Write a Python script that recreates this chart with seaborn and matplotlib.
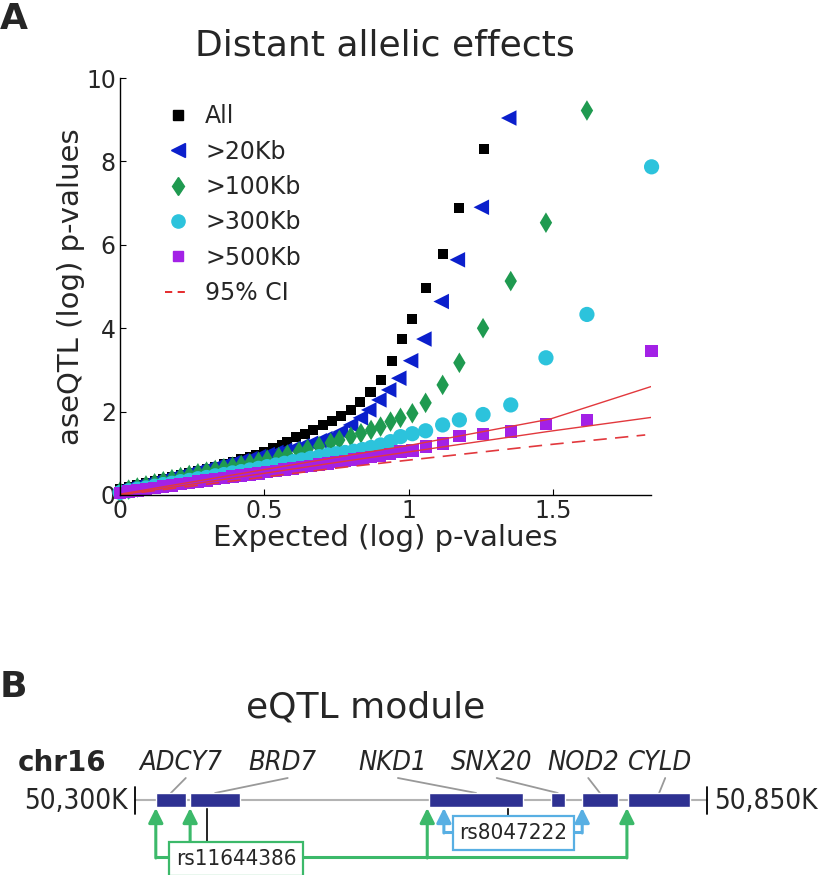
import pandas as pd
import seaborn as sns
import matplotlib.pyplot as plt
from matplotlib import font_manager as fm
from matplotlib.lines import Line2D
from matplotlib.ticker import FormatStrFormatter

# ---- panel A: expected vs observed -log10 p-values ----
all_x = [0.00, 0.03, 0.06, 0.09, 0.12, 0.15, 0.18, 0.21, 0.24, 0.27, 0.30, 0.33, 0.36,
         0.39, 0.42, 0.45, 0.47, 0.50, 0.53, 0.56, 0.58, 0.61, 0.64, 0.67, 0.705, 0.735,
         0.767, 0.80, 0.833, 0.868, 0.905, 0.941, 0.976, 1.013, 1.059, 1.118, 1.174, 1.26]
all_y = [0.14, 0.19, 0.24, 0.29, 0.34, 0.38, 0.43, 0.48, 0.53, 0.58, 0.63, 0.68, 0.74,
         0.80, 0.86, 0.92, 0.97, 1.04, 1.12, 1.20, 1.28, 1.38, 1.47, 1.57, 1.68, 1.77,
         1.89, 2.04, 2.24, 2.48, 2.76, 3.22, 3.74, 4.22, 4.96, 5.78, 6.89, 8.29]

kb20_x = [0.00, 0.03, 0.06, 0.09, 0.12, 0.15, 0.18, 0.21, 0.24, 0.27, 0.30, 0.33, 0.36,
          0.39, 0.42, 0.45, 0.48, 0.51, 0.54, 0.57, 0.60, 0.63, 0.66, 0.69, 0.71, 0.735,
          0.764, 0.799, 0.833, 0.862, 0.897, 0.931, 0.966, 1.007, 1.053, 1.113, 1.169,
          1.252, 1.347]
kb20_y = [0.12, 0.17, 0.22, 0.27, 0.32, 0.37, 0.42, 0.47, 0.52, 0.57, 0.62, 0.67, 0.72,
          0.77, 0.82, 0.87, 0.92, 0.97, 1.02, 1.07, 1.12, 1.18, 1.24, 1.30, 1.35, 1.40,
          1.52, 1.68, 1.85, 2.04, 2.28, 2.52, 2.80, 3.22, 3.74, 4.64, 5.64, 6.90, 9.04]

kb100_x = [0.00, 0.03, 0.06, 0.09, 0.12, 0.15, 0.18, 0.21, 0.24, 0.27, 0.30, 0.33, 0.36,
           0.39, 0.42, 0.45, 0.48, 0.51, 0.55, 0.58, 0.62, 0.65, 0.69, 0.73, 0.76, 0.80,
           0.835, 0.87, 0.903, 0.9375, 0.972, 1.013, 1.059, 1.118, 1.176, 1.258, 1.354,
           1.476, 1.618]
kb100_y = [0.08, 0.13, 0.18, 0.23, 0.28, 0.33, 0.38, 0.43, 0.48, 0.52, 0.56, 0.60, 0.64,
           0.68, 0.72, 0.76, 0.80, 0.85, 0.91, 0.97, 1.04, 1.10, 1.17, 1.25, 1.32, 1.40,
           1.48, 1.56, 1.64, 1.76, 1.85, 1.96, 2.21, 2.64, 3.17, 4.00, 5.13, 6.53, 9.22]

kb300_x = [0.00, 0.03, 0.06, 0.09, 0.12, 0.15, 0.18, 0.21, 0.24, 0.27, 0.30, 0.33, 0.36,
           0.39, 0.42, 0.45, 0.48, 0.51, 0.54, 0.57, 0.60, 0.63, 0.66, 0.69, 0.72, 0.75,
           0.78, 0.81, 0.84, 0.87, 0.903, 0.9375, 0.972, 1.013, 1.059, 1.118, 1.176,
           1.258, 1.354, 1.476, 1.618, 1.842]
kb300_y = [0.06, 0.10, 0.14, 0.17, 0.21, 0.25, 0.28, 0.32, 0.35, 0.39, 0.42, 0.46, 0.49,
           0.53, 0.56, 0.60, 0.64, 0.68, 0.72, 0.76, 0.80, 0.84, 0.88, 0.92, 0.96, 0.99,
           1.02, 1.05, 1.09, 1.14, 1.20, 1.28, 1.40, 1.47, 1.54, 1.68, 1.80, 1.93, 2.16,
           3.29, 4.33, 7.87]

kb500_x = [0.00, 0.03, 0.06, 0.09, 0.12, 0.15, 0.18, 0.21, 0.24, 0.27, 0.30, 0.33, 0.36,
           0.39, 0.42, 0.45, 0.48, 0.51, 0.54, 0.57, 0.60, 0.63, 0.66, 0.69, 0.72, 0.75,
           0.78, 0.81, 0.84, 0.87, 0.90, 0.935, 0.972, 1.013, 1.061, 1.119, 1.177, 1.258,
           1.354, 1.476, 1.618, 1.842]
kb500_y = [0.05, 0.08, 0.11, 0.14, 0.17, 0.20, 0.23, 0.26, 0.29, 0.32, 0.35, 0.38, 0.41,
           0.44, 0.47, 0.49, 0.52, 0.55, 0.58, 0.61, 0.64, 0.67, 0.70, 0.73, 0.76, 0.79,
           0.82, 0.85, 0.88, 0.91, 0.94, 0.99, 1.04, 1.07, 1.16, 1.24, 1.41, 1.46, 1.52,
           1.70, 1.80, 3.46]

# null line and 95% confidence band
null_x = [0.0, 0.73, 1.48, 1.84]
null_y = [0.0, 0.76, 1.52, 1.86]
ci_up_x = [0.0, 0.73, 1.01, 1.49, 1.84]
ci_up_y = [0.02, 0.88, 1.20, 1.82, 2.60]
ci_lo_x = [0.0, 0.73, 1.476, 1.82]
ci_lo_y = [0.0, 0.63, 1.20, 1.44]

series = ['All', '>20Kb', '>100Kb', '>300Kb', '>500Kb']
xs = [all_x, kb20_x, kb100_x, kb300_x, kb500_x]
ys = [all_y, kb20_y, kb100_y, kb300_y, kb500_y]
colors = ['#000000', '#0b1fcc', '#1f9a50', '#2cc3dc', '#a321e6']
markers = ['s', '<', 'd', 'o', 's']
sizes = [52, 125, 110, 120, 80]
red = '#e2383d'

df = pd.concat([pd.DataFrame({'expected': x, 'observed': y, 'set': s})
                for s, x, y in zip(series, xs, ys)], ignore_index=True)

# ---- panel B: chr16 eQTL module ----
region = [50300, 50850]
genes = ['ADCY7', 'BRD7', 'NKD1', 'SNX20', 'NOD2', 'CYLD']
gene_start = [50320, 50353, 50583, 50700, 50730, 50774]
gene_end = [50349, 50401, 50673, 50713, 50764, 50834]
label_kb = [50344, 50442, 50548, 50643, 50731, 50805]
snps = ['rs11644386', 'rs8047222']
snp_pos = [50369, 50659]
snp_label_kb = [50397, 50664]
green_targets = [50320, 50353, 50581, 50773]
blue_targets = [50597, 50730]

sns.set_style('ticks')
plt.rcParams['font.family'] = ['DejaVu Sans']

# panel B uses a narrow face; fall back to smaller DejaVu Sans if no condensed file
cond_file = fm.findfont(fm.FontProperties(family='DejaVu Sans', stretch='condensed'))
if 'ondensed' in cond_file:
    narrow = dict(family='DejaVu Sans', stretch='condensed')
    fs_region, fs_gene, fs_snp = 20, 19.5, 16
else:
    narrow = dict(family='DejaVu Sans')
    fs_region, fs_gene, fs_snp = 18.5, 17.5, 14.5

W, H = 819, 875
fig = plt.figure(figsize=(W / 100, H / 100), dpi=100)

ax = fig.add_axes([120 / W, 1 - 495 / H, 531 / W, 417 / H])
sns.scatterplot(data=df, x='expected', y='observed', hue='set', style='set', size='set',
                palette=dict(zip(series, colors)), markers=dict(zip(series, markers)),
                sizes=dict(zip(series, sizes)), linewidth=0, legend=False,
                clip_on=False, ax=ax)
ax.plot(ci_up_x, ci_up_y, color=red, lw=1)
ax.plot(null_x, null_y, color=red, lw=1)
ax.plot(ci_lo_x, ci_lo_y, color=red, lw=1.2, ls=(0, (8, 5)))

ax.set_xlim(0, 1.84)
ax.set_ylim(0, 10)
ax.set_xticks([0, 0.5, 1, 1.5])
ax.set_yticks([0, 2, 4, 6, 8, 10])
ax.xaxis.set_major_formatter(FormatStrFormatter('%g'))
ax.yaxis.set_major_formatter(FormatStrFormatter('%g'))
sns.despine(ax=ax)
for s in ['left', 'bottom']:
    ax.spines[s].set_color('black')
    ax.spines[s].set_linewidth(1)
ax.tick_params(direction='in', length=4, width=0.8, labelsize=17, color='black', pad=3)
ax.set_xlabel('Expected (log) p-values', fontsize=21)
ax.set_ylabel('aseQTL (log) p-values', fontsize=21)
ax.xaxis.set_label_coords(0.5, -0.07)
ax.yaxis.set_label_coords(-0.066, 0.5)

handles = [Line2D([], [], ls='', marker=m, color=c, markersize=ms)
           for m, c, ms in zip(markers, colors, [7, 9.5, 9.5, 9.5, 7])]
handles.append(Line2D([], [], color='#e31a1c', lw=1.3, ls=(0, (4, 3))))
ax.legend(handles, series + ['95% CI'], loc='upper left', bbox_to_anchor=(0.085, 0.937),
          frameon=False, fontsize=17, handlelength=1.06, handletextpad=0.64,
          labelspacing=0.48, borderpad=0, borderaxespad=0)

fig.text(385 / W, 1 - 45 / H, 'Distant allelic effects', fontsize=26, ha='center', va='center')
fig.text(0.0, 1 - 2 / H, 'A', fontsize=26, fontweight='bold', ha='left', va='top')
fig.text(0.0, 1 - 670 / H, 'B', fontsize=26, fontweight='bold', ha='left', va='top')
fig.text(366 / W, 1 - 707 / H, 'eQTL module', fontsize=26, ha='center', va='center')

# panel B drawn in genomic kb (x) and pixel rows (y)
kpp = (region[1] - region[0]) / (707 - 135)
ax2 = fig.add_axes([0, 0, 1, 225 / H])
ax2.set_xlim(region[0] - 135 * kpp, region[1] + (W - 707) * kpp)
ax2.set_ylim(875, 650)
ax2.axis('off')

green, blue = '#3cb96a', '#58afe3'
ax2.plot(region, [800, 800], color='#b3b3b3', lw=1.5, zorder=1)
for r in region:
    ax2.plot([r, r], [787, 814], color='black', lw=1.3, zorder=2)
ax2.text(region[0] - 7 * kpp, 801, '50,300K', fontsize=fs_region, ha='right', va='center', **narrow)
ax2.text(region[1] + 7 * kpp, 801, '50,850K', fontsize=fs_region, ha='left', va='center', **narrow)
ax2.text(region[0] - 117 * kpp, 763, 'chr16', fontsize=20, fontweight='bold', ha='left', va='center')

ax2.barh([800] * len(genes), [e - s for s, e in zip(gene_start, gene_end)], left=gene_start,
         height=14, color='#2e3192', zorder=3)
for g, s, e, lx in zip(genes, gene_start, gene_end, label_kb):
    ax2.text(lx, 763, g, fontsize=fs_gene, style='italic', ha='center', va='center', **narrow)
    ax2.plot([lx + 5 * kpp, (s + e) / 2], [778, 793], color='#999999', lw=1.3, zorder=2)

# trans-acting arrows
ax2.plot([green_targets[0], green_targets[-1]], [857, 857], color=green, lw=2.2, zorder=1,
         solid_capstyle='butt')
for t in green_targets:
    ax2.annotate('', xy=(t, 808), xytext=(t, 858),
                 arrowprops=dict(arrowstyle='-|>', color=green, lw=2.2, mutation_scale=22,
                                 shrinkA=0, shrinkB=0), zorder=2)
ax2.plot([blue_targets[0], blue_targets[-1]], [832, 832], color=blue, lw=2.2, zorder=1,
         solid_capstyle='butt')
for t in blue_targets:
    ax2.annotate('', xy=(t, 808), xytext=(t, 833),
                 arrowprops=dict(arrowstyle='-|>', color=blue, lw=2.2, mutation_scale=22,
                                 shrinkA=0, shrinkB=0), zorder=2)

for name, pos, lx, ly, ec in zip(snps, snp_pos, snp_label_kb, [859, 833], [green, blue]):
    ax2.plot([pos, pos], [807, ly - 16], color='black', lw=1.2, zorder=2)
    ax2.text(lx, ly, name, fontsize=fs_snp, ha='center', va='center', zorder=5,
             bbox=dict(boxstyle='square,pad=0.3', fc='white', ec=ec, lw=1.6), **narrow)

fig.savefig('out.png', dpi=100)
